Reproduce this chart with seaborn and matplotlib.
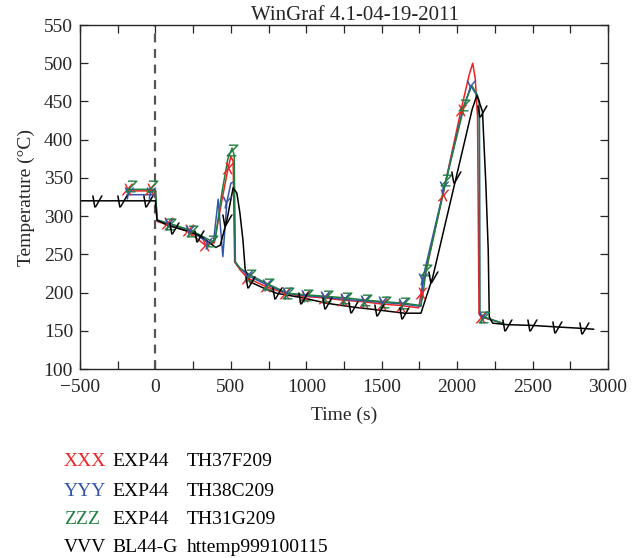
import matplotlib
matplotlib.use("Agg")
import matplotlib.pyplot as plt
import seaborn as sns
import pandas as pd

# ---- data ----
black_t = [-500, 0, 10, 80, 200, 300, 400, 430, 474, 515, 540, 560, 580, 595, 627, 715, 805, 980, 1135, 1310, 1485, 1650, 1760,
           1838, 1994, 2100, 2131, 2168, 2190, 2206, 2213, 2235, 2333, 2498, 2663, 2840, 2906]
black_T = [320, 320, 295, 288, 281, 274, 259, 262, 295, 337, 330, 304, 269, 230, 214, 206, 199, 193, 186, 181, 177, 173, 173,
           220, 351, 440, 458, 437, 343, 256, 168, 160, 158, 157, 155, 153, 152]
black_mt = [-385, -220, -46, 120, 286, 474, 627, 805, 980, 1135, 1310, 1485, 1650, 1838, 1994, 2168, 2333, 2498, 2663, 2840]
black_mT = [320, 320, 320, 285, 274, 295, 214, 199, 193, 186, 181, 177, 173, 220, 351, 437, 158, 157, 155, 153]

red_t = [-190, 0, 11, 77, 218, 330, 390, 440, 482, 500, 515, 525, 560, 610, 730, 860, 985, 1115, 1245, 1380, 1500, 1630, 1745,
         1761, 1905, 2026, 2080, 2103, 2120, 2135, 2145, 2158, 2300]
red_T = [333, 333, 293, 289, 280, 262, 265, 320, 363, 378, 372, 240, 230, 219, 208, 199, 195, 193, 190, 188, 185, 183, 180,
         199, 328, 439, 485, 500, 480, 430, 172, 168, 160]
red_mt = [-187, -33, 77, 218, 330, 482, 610, 730, 860, 985, 1115, 1245, 1380, 1500, 1630, 1761, 1905, 2026, 2158]
red_mT = [336, 336, 291, 282, 262, 363, 219, 208, 199, 195, 193, 190, 188, 185, 183, 199, 328, 439, 168]

blue_t = [-190, 0, 11, 88, 230, 350, 385, 416, 447, 474, 500, 520, 528, 560, 615, 740, 870, 995, 1125, 1255, 1390, 1510, 1640,
          1760, 1772, 1915, 2040, 2092, 2130, 2147, 2150, 2170, 2300]
blue_T = [328, 328, 294, 290, 281, 265, 266, 322, 247, 319, 343, 345, 240, 232, 222, 210, 199, 196, 194, 191, 189, 187, 185,
          182, 218, 338, 442, 470, 458, 450, 173, 168, 160]
blue_mt = [-175, -28, 88, 230, 350, 474, 615, 740, 870, 995, 1125, 1255, 1390, 1510, 1640, 1772, 1915, 2092, 2170]
blue_mT = [330, 330, 290, 281, 265, 319, 222, 210, 199, 196, 194, 191, 189, 187, 185, 218, 338, 470, 168]

green_t = [-190, 0, 11, 100, 242, 374, 396, 440, 480, 508, 522, 530, 560, 627, 747, 880, 1002, 1134, 1266, 1398, 1519, 1651,
           1760, 1775, 1794, 1927, 2048, 2096, 2130, 2147, 2150, 2180, 2300]
green_T = [335, 335, 295, 290, 281, 267, 269, 330, 375, 389, 380, 240, 232, 223, 211, 199, 197, 195, 193, 190, 188, 186,
           183, 200, 229, 347, 445, 471, 460, 450, 173, 168, 160]
green_mt = [-160, -22, 99, 242, 374, 508, 627, 747, 880, 1002, 1134, 1266, 1398, 1519, 1651, 1794, 1927, 2048, 2180]
green_mT = [339, 339, 290, 281, 267, 386, 223, 211, 199, 197, 195, 193, 190, 188, 186, 229, 347, 445, 168]

legend_codes = ["XXX", "YYY", "ZZZ", "VVV"]
legend_src = ["EXP44", "EXP44", "EXP44", "BL44-G"]
legend_names = ["TH37F209", "TH38C209", "TH31G209", "httemp999100115"]

title = "WinGraf 4.1-04-19-2011"
xlabel = "Time (s)"
ylabel = "Temperature (°C)"
xticks = [-500, 0, 500, 1000, 1500, 2000, 2500, 3000]
yticks = [100, 150, 200, 250, 300, 350, 400, 450, 500, 550]

# ---- style ----
sns.set_style("ticks")
plt.rcParams["font.family"] = ["Liberation Serif", "DejaVu Serif"]
plt.rcParams["mathtext.fontset"] = "dejavusans"

RED, BLUE, GREEN, BLACK = "#ee2222", "#3355aa", "#1f7f3f", "#000000"
series = [
    (red_t, red_T, red_mt, red_mT, RED, "X"),
    (blue_t, blue_T, blue_mt, blue_mT, BLUE, "Y"),
    (green_t, green_T, green_mt, green_mT, GREEN, "Z"),
    (black_t, black_T, black_mt, black_mT, BLACK, "V"),
]

FS = 14

fig = plt.figure(figsize=(6.32, 5.58), dpi=100)
ax = fig.add_axes([80 / 632, 1 - 369 / 558, (608 - 80) / 632, (369 - 25) / 558])

ax.axvline(0, color="#555555", lw=1.6, ls=(0, (4, 3)), zorder=1)

for t, T, mt, mT, c, m in series:
    df = pd.DataFrame({"t": t, "T": T})
    sns.lineplot(data=df, x="t", y="T", ax=ax, color=c, lw=1.1, sort=False,
                 estimator=None, zorder=2)
    dm = pd.DataFrame({"t": mt, "T": mT})
    sns.scatterplot(data=dm, x="t", y="T", ax=ax, color=c, marker=f"${m}$",
                    s=75, linewidth=0, zorder=3)

ax.set_xlim(-500, 3000)
ax.set_ylim(100, 550)
ax.set_xticks(xticks)
ax.set_xticklabels([str(v).replace("-", "\u2212") for v in xticks])
ax.set_yticks(yticks)
ax.xaxis.set_minor_locator(matplotlib.ticker.MultipleLocator(250))
ax.tick_params(which="both", direction="in", top=True, right=True, labelsize=FS,
               length=6, width=0.9)
ax.tick_params(axis="x", pad=7)
ax.tick_params(axis="y", pad=5)
for s in ax.spines.values():
    s.set_linewidth(1.0)
    s.set_visible(True)

ax.set_title(title, fontsize=15, pad=3, x=0.52)
ax.set_xlabel(xlabel, fontsize=FS, labelpad=8)
ax.set_ylabel(ylabel, fontsize=FS, labelpad=6)

# legend block as text rows
rows_y = [462, 491, 519, 547]
colors = [RED, BLUE, GREEN, BLACK]
for code, src, name, yy, c in zip(legend_codes, legend_src, legend_names, rows_y, colors):
    fy = 1 - yy / 558
    fig.text(64 / 632, fy, code, color=c, fontsize=FS, va="center", ha="left")
    fig.text(112 / 632, fy, src, color="black", fontsize=FS, va="center", ha="left")
    fig.text(187 / 632, fy, name, color="black", fontsize=FS, va="center", ha="left")

fig.savefig("out.png", dpi=100)
